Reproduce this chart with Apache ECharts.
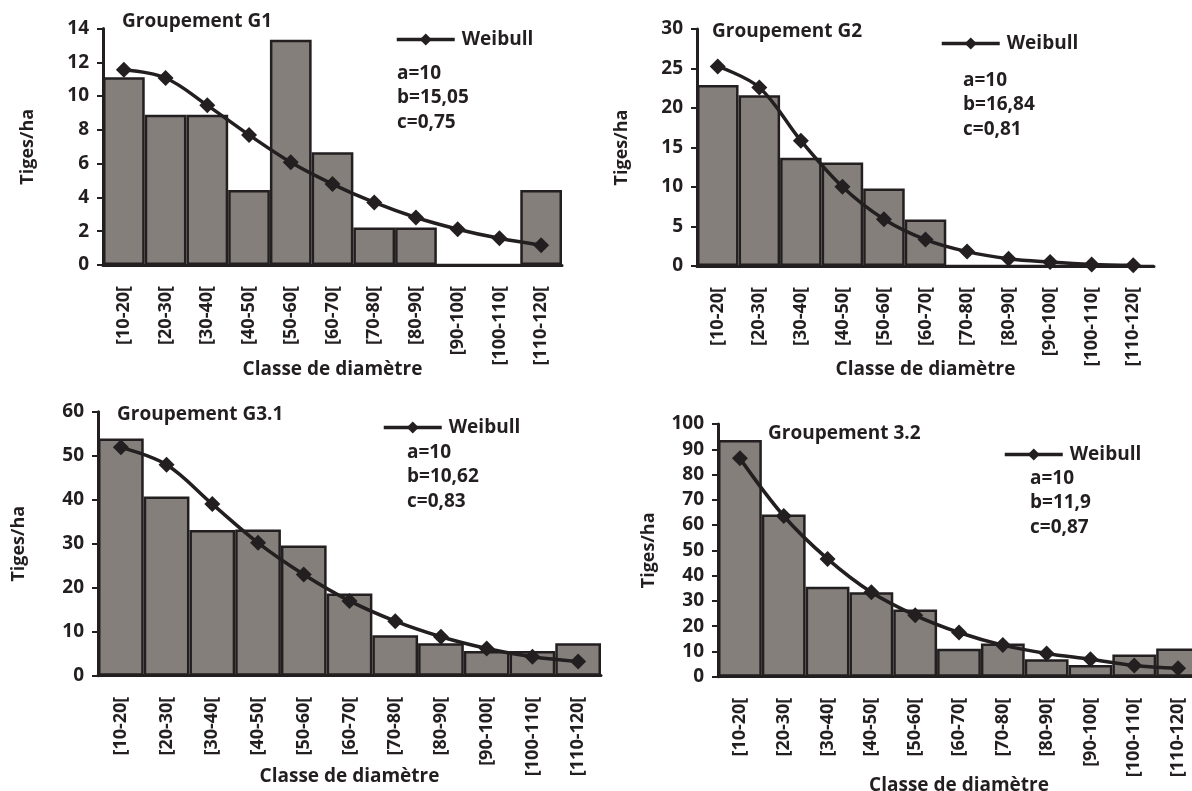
<!DOCTYPE html>
<html>
<head>
<meta charset="utf-8">
<script src="https://cdn.jsdelivr.net/npm/echarts@6/dist/echarts.min.js"></script>
<style>
html,body{margin:0;padding:0;background:#fff;}
#chart{width:1192px;height:791px;}
</style>
</head>
<body>
<div id="chart"></div>
<script>
// ---- data ----
var categories = ['[10-20[', '[20-30[', '[30-40[', '[40-50[', '[50-60[', '[60-70[', '[70-80[', '[80-90[', '[90-100[', '[100-110[', '[110-120['];

var g1Observed = [11.11, 8.89, 8.89, 4.44, 13.33, 6.67, 2.22, 2.22, 0, 0, 4.44];
var g1Weibull  = [11.56, 11.07, 9.45, 7.70, 6.08, 4.79, 3.70, 2.81, 2.12, 1.58, 1.17];

var g2Observed = [22.9, 21.6, 13.7, 13.1, 9.8, 5.9, 0, 0, 0, 0, 0];
var g2Weibull  = [25.26, 22.6, 15.87, 10.03, 5.92, 3.34, 1.82, 0.93, 0.5, 0.2, 0.1];

var g31Observed = [53.9, 40.7, 33.1, 33.2, 29.6, 18.7, 9.2, 7.4, 5.6, 5.6, 7.4];
var g31Weibull  = [51.9, 47.95, 39.0, 30.2, 23.0, 17.0, 12.4, 8.86, 6.2, 4.3, 3.2];

var g32Observed = [93.7, 64.2, 35.6, 33.4, 26.6, 11.1, 13.1, 6.9, 4.6, 8.8, 11.2];
var g32Weibull  = [86.4, 63.6, 46.6, 33.4, 24.3, 17.5, 12.5, 9.2, 6.9, 4.4, 3.3];

var panelTitles = ['Groupement G1', 'Groupement G2', 'Groupement G3.1', 'Groupement 3.2'];
var panelParams = [
  ['a=10', 'b=15,05', 'c=0,75'],
  ['a=10', 'b=16,84', 'c=0,81'],
  ['a=10', 'b=10,62', 'c=0,83'],
  ['a=10', 'b=11,9', 'c=0,87']
];
var yMax = [14, 30, 60, 100];
var yInterval = [2, 5, 10, 10];
var yAxisName = 'Tiges/ha';
var xAxisName = 'Classe de diamètre';
var legendName = 'Weibull';

// ---- layout / style ----
var FONT = 'Open Sans';
var TXT = '#231f20';
var panels = [
  {obs: g1Observed, wb: g1Weibull, left: 103, right: 1192 - 562, top: 28.5, bottom: 791 - 265,
   title: [122, 22], params: [397, 61], legend: [395, 30], yNameGap: 66, xNameGap: 95},
  {obs: g2Observed, wb: g2Weibull, left: 697, right: 1192 - 1154, top: 29, bottom: 791 - 266,
   title: [712, 32], params: [963, 68], legend: [940, 34], yNameGap: 66, xNameGap: 94},
  {obs: g31Observed, wb: g31Weibull, left: 98, right: 1192 - 601, top: 411.7, bottom: 791 - 675.7,
   title: [117, 415], params: [407, 440], legend: [382, 418], yNameGap: 70, xNameGap: 91},
  {obs: g32Observed, wb: g32Weibull, left: 718, right: 1192 - 1200, top: 424, bottom: 791 - 676.7,
   title: [768, 434], params: [1030, 466], legend: [1003, 445], yNameGap: 60, xNameGap: 99}
];

var grids = [], xAxes = [], yAxes = [], series = [], legends = [], graphics = [];

panels.forEach(function (p, i) {
  grids.push({left: p.left, right: p.right, top: p.top, bottom: p.bottom, containLabel: false, outerBoundsMode: 'none'});
  xAxes.push({
    type: 'category', gridIndex: i, data: categories, boundaryGap: true,
    axisLine: {show: true, lineStyle: {color: TXT, width: 3}},
    axisTick: {show: false},
    axisLabel: {interval: 0, rotate: 90, margin: 21, fontFamily: FONT, fontWeight: 'bold', fontSize: 18, color: TXT},
    name: xAxisName, nameLocation: 'middle', nameGap: p.xNameGap, nameMoveOverlap: false,
    nameTextStyle: {fontFamily: FONT, fontWeight: 'bold', fontSize: 19, color: TXT}
  });
  yAxes.push({
    type: 'value', gridIndex: i, min: 0, max: yMax[i], interval: yInterval[i],
    splitLine: {show: false},
    axisLine: {show: true, lineStyle: {color: TXT, width: 3}},
    axisTick: {show: true, inside: false, length: 6, lineStyle: {color: TXT, width: 2}},
    axisLabel: {margin: 14, fontFamily: FONT, fontWeight: 'bold', fontSize: 19, color: TXT},
    name: yAxisName, nameLocation: 'middle', nameRotate: 90, nameGap: p.yNameGap, nameMoveOverlap: false,
    nameTextStyle: {fontFamily: FONT, fontWeight: 'bold', fontSize: 18, color: TXT}
  });
  series.push({
    type: 'bar', name: 'Observed' + i, xAxisIndex: i, yAxisIndex: i, data: p.obs,
    barCategoryGap: '0%', barGap: '0%',
    itemStyle: {color: '#857f7b', borderColor: TXT, borderWidth: 2.5},
    emphasis: {disabled: true}, z: 2
  });
  series.push({
    type: 'line', name: legendName, xAxisIndex: i, yAxisIndex: i, data: p.wb,
    smooth: 0.35, symbol: 'diamond', symbolSize: 16,
    lineStyle: {color: TXT, width: 3.5},
    itemStyle: {color: TXT},
    emphasis: {disabled: true}, z: 5
  });
  legends.push({
    data: [legendName], left: p.legend[0], top: p.legend[1], padding: 0,
    itemWidth: 58, itemHeight: 15, selectedMode: false,
    lineStyle: {color: TXT, width: 3.5},
    itemStyle: {color: TXT},
    textStyle: {fontFamily: FONT, fontWeight: 'bold', fontSize: 19, color: TXT, padding: [0, 0, 0, 2]}
  });
  graphics.push({
    type: 'text', x: p.title[0], y: p.title[1],
    style: {text: panelTitles[i], fontFamily: FONT, fontWeight: 'bold', fontSize: 19, fill: TXT, verticalAlign: 'middle'}
  });
  graphics.push({
    type: 'text', x: p.params[0], y: p.params[1],
    style: {text: panelParams[i].join('\n'), fontFamily: FONT, fontWeight: 'bold', fontSize: 19, lineHeight: 24.5, fill: TXT, verticalAlign: 'top'}
  });
});

var chart = echarts.init(document.getElementById('chart'), null, {renderer: 'canvas'});
chart.setOption({
  backgroundColor: '#ffffff',
  animation: false,
  grid: grids, xAxis: xAxes, yAxis: yAxes, series: series,
  legend: legends, graphic: graphics, tooltip: {show: false}
});
</script>
</body>
</html>
